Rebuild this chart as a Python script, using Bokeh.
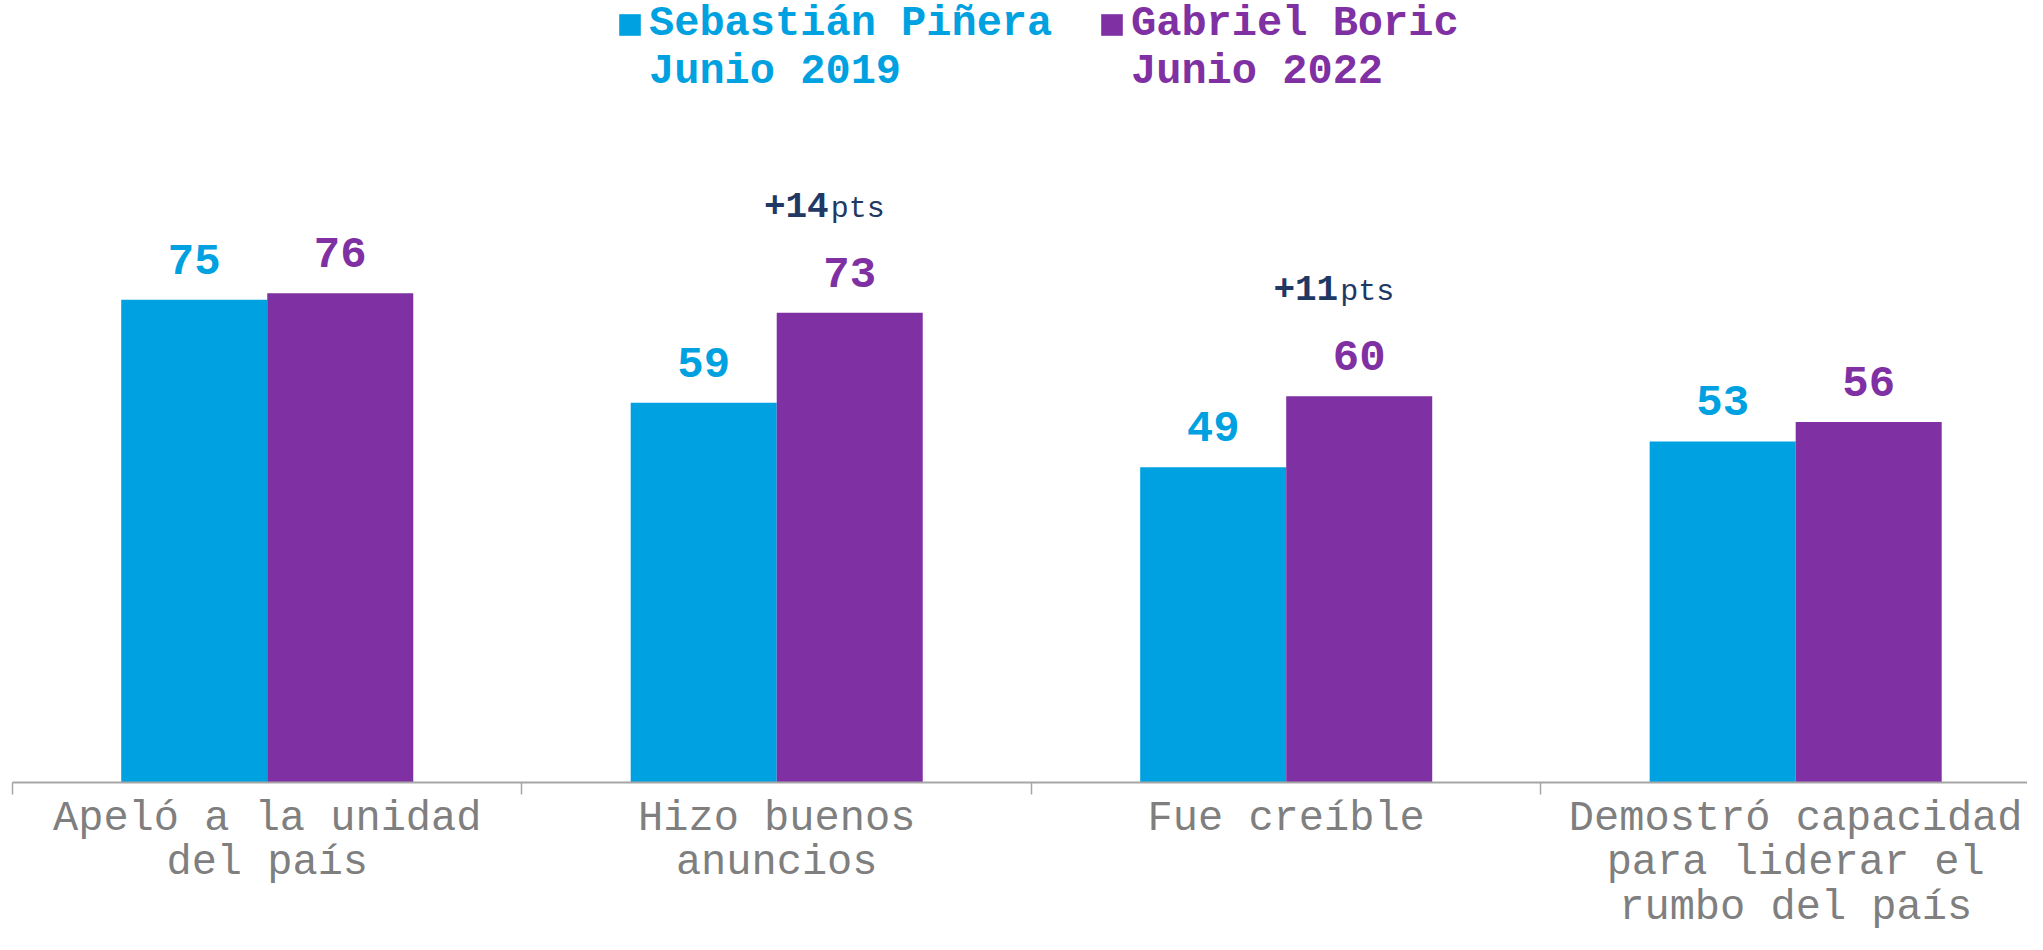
import numpy as np
from bokeh.plotting import figure
from bokeh.models import (ColumnDataSource, Range1d, FixedTicker, LabelSet,
                          Legend, LegendItem)
from bokeh.core.properties import value
from bokeh.embed import file_html
from bokeh.resources import INLINE

# ---- data ----
categories = ["Apeló a la unidad\ndel país",
              "Hizo buenos\nanuncios",
              "Fue creíble",
              "Demostró capacidad\npara liderar el\nrumbo del país"]
pinera_2019 = [75, 59, 49, 53]
boric_2022 = [76, 73, 60, 56]
highlight = [False, True, True, False]
series_names = ["Sebastián Piñera", "Gabriel Boric"]
series_periods = ["Junio 2019", "Junio 2022"]

BLUE = "#00A1E0"
PURPLE = "#7F30A3"
NAVY = "#1F3864"
GRAY = "#7F7F7F"
AXIS = "#A6A6A6"
FONT = "Liberation Mono"

BAR_W = 0.2866
centers = np.arange(len(categories)) + 0.5

src = ColumnDataSource(dict(
    xa=centers - BAR_W / 2,
    xb=centers + BAR_W / 2,
    a=pinera_2019,
    b=boric_2022,
    a_txt=[str(v) for v in pinera_2019],
    b_txt=[str(v) for v in boric_2022],
))

hi_idx = [i for i, h in enumerate(highlight) if h]
src_hi = ColumnDataSource(dict(
    x=[centers[i] + 0.104 for i in hi_idx],
    y=[boric_2022[i] for i in hi_idx],
    diff=["+%d" % (boric_2022[i] - pinera_2019[i]) for i in hi_idx],
    unit=["pts" for _ in hi_idx],
))

W, H = 2027, 934
p = figure(width=W, height=H, output_backend="svg", toolbar_location=None,
           x_range=Range1d(0, 3.955), y_range=Range1d(0, 121.5),
           y_axis_location=None, min_border_left=12, min_border_right=0,
           min_border_top=0, min_border_bottom=150)
p.outline_line_color = None
p.xgrid.grid_line_color = None
p.ygrid.grid_line_color = None

r1 = p.vbar(x="xa", top="a", width=BAR_W, source=src, fill_color=BLUE, line_color=None)
r2 = p.vbar(x="xb", top="b", width=BAR_W, source=src, fill_color=PURPLE, line_color=None)
# empty renderers: only used to give the legend a second text line without a swatch
e1 = p.vbar(x=[], top=[], width=BAR_W, fill_alpha=0, line_alpha=0)
e2 = p.vbar(x=[], top=[], width=BAR_W, fill_alpha=0, line_alpha=0)

ax = p.xaxis[0]
ax.ticker = FixedTicker(ticks=list(centers), minor_ticks=list(range(len(categories) + 1)))
ax.major_label_overrides = {float(c): lab for c, lab in zip(centers, categories)}
ax.major_tick_line_color = None
ax.major_tick_out = 0
ax.major_tick_in = 0
ax.minor_tick_line_color = AXIS
ax.minor_tick_line_width = 1.5
ax.minor_tick_out = 12
ax.minor_tick_in = 0
ax.axis_line_color = AXIS
ax.axis_line_width = 2
ax.axis_label_standoff = 0
ax.major_label_text_font = FONT
ax.major_label_text_font_size = "42px"
ax.major_label_text_color = GRAY
ax.major_label_text_line_height = 0.93
ax.major_label_standoff = 0

def labels(x, y, text, color, size, style, align, yoff, xoff=0):
    return LabelSet(x=x, y=y, text=text, source=src if x in ("xa", "xb") else src_hi,
                    y_offset=yoff, x_offset=xoff,
                    text_align=align, text_baseline="alphabetic",
                    text_font=value(FONT), text_font_size=value(size),
                    text_font_style=value(style), text_color=value(color))

p.add_layout(labels("xa", "a", "a_txt", BLUE, "44px", "bold", "center", 26))
p.add_layout(labels("xb", "b", "b_txt", PURPLE, "44px", "bold", "center", 26))
p.add_layout(labels("x", "y", "diff", NAVY, "36px", "bold", "right", 96, -1))
p.add_layout(labels("x", "y", "unit", NAVY, "30px", "normal", "left", 96, 1))

def make_legend(renderer, empty, name, period, color, loc):
    return Legend(items=[LegendItem(label=name, renderers=[renderer]),
                         LegendItem(label=period, renderers=[empty])],
                  location=loc, orientation="vertical",
                  label_text_font=FONT, label_text_font_size="42px",
                  label_text_font_style="bold", label_text_color=color,
                  label_text_line_height=1.0, label_height=46,
                  glyph_width=27, glyph_height=27, label_standoff=6,
                  padding=0, margin=0, spacing=0,
                  border_line_color=None, background_fill_alpha=0)

p.add_layout(make_legend(r1, e1, series_names[0], series_periods[0], BLUE, (604, 686)))
p.add_layout(make_legend(r2, e2, series_names[1], series_periods[1], PURPLE, (1086, 686)))

open("out.html", "w").write(file_html(p, INLINE))
